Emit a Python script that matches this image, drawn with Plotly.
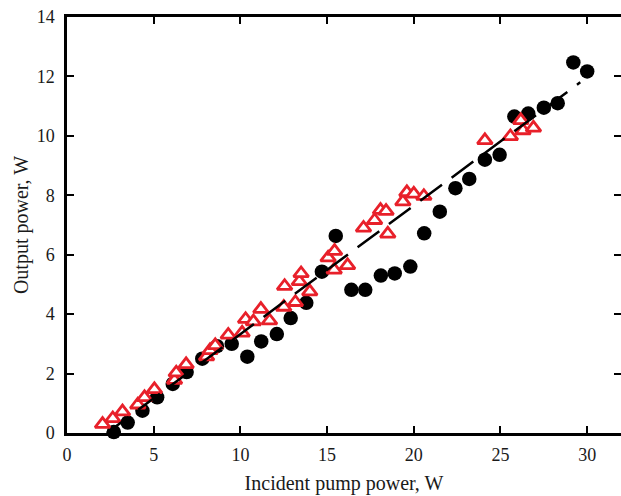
import plotly.graph_objects as go

# Black circles
circ_x = [2.7, 3.5, 4.35, 5.2, 6.1, 6.9, 7.8, 8.65, 9.5, 10.4, 11.2, 12.1, 12.9, 13.8, 14.7, 15.5,
          16.4, 17.2, 18.1, 18.9, 19.8, 20.6, 21.5, 22.4, 23.2, 24.1, 24.95, 25.8, 26.6, 27.5, 28.3,
          29.2, 30.0]
circ_y = [0.03, 0.35, 0.75, 1.2, 1.65, 2.05, 2.5, 2.92, 3.0, 2.57, 3.08, 3.33, 3.87, 4.38, 5.43, 6.63,
          4.82, 4.82, 5.3, 5.37, 5.6, 6.72, 7.45, 8.24, 8.55, 9.2, 9.36, 10.65, 10.75, 10.95, 11.1,
          12.47, 12.17]

# Red open triangles
tri_x = [2.05, 2.64, 3.2, 4.08, 4.47, 5.04, 6.2, 6.3, 6.87, 8.05, 8.25, 8.55, 9.3, 10.1, 10.3, 10.75,
         11.18, 11.68, 12.5, 12.55, 13.17, 13.4, 13.5, 14.0, 15.06, 15.43, 15.41, 16.18, 17.1, 17.74,
         18.08, 18.4, 18.5, 19.37, 19.6, 20.0, 20.58, 24.1, 25.57, 26.17, 26.3, 26.9]
tri_y = [0.3, 0.49, 0.72, 0.95, 1.2, 1.47, 1.78, 2.03, 2.31, 2.57, 2.78, 2.95, 3.3, 3.37, 3.83, 3.75,
         4.17, 3.78, 4.24, 4.94, 4.4, 5.1, 5.37, 4.76, 5.9, 6.12, 5.49, 5.64, 6.9, 7.16,
         7.5, 7.47, 6.7, 7.79, 8.1, 8.05, 7.97, 9.85, 9.98, 10.52, 10.18, 10.27]

# Dashed fit line
fit_x = [2.3, 29.6]
fit_y = [0.0, 11.8]

x_ticks = [0, 5, 10, 15, 20, 25, 30]
y_ticks = [0, 2, 4, 6, 8, 10, 12, 14]

fig = go.Figure()
fig.add_trace(go.Scatter(x=circ_x, y=circ_y, mode="markers", cliponaxis=False,
                         marker=dict(symbol="circle", size=14.5, color="black"), showlegend=False))
fig.add_trace(go.Scatter(x=tri_x, y=tri_y, mode="markers", cliponaxis=False,
                         marker=dict(symbol="triangle-up", size=13, color="white",
                                     line=dict(color="#e8202a", width=2.8)), showlegend=False))
fig.add_trace(go.Scatter(x=fit_x, y=fit_y, mode="lines",
                         line=dict(color="black", width=2.5, dash="27px,12px"), showlegend=False))

font_family = "Liberation Serif"
fig.update_layout(
    width=621, height=496,
    margin=dict(l=67, r=0, t=17, b=63, autoexpand=False),
    paper_bgcolor="white", plot_bgcolor="white",
    font=dict(family=font_family, size=18, color="#1a1a1a"),
    xaxis=dict(range=[0, 31.95], tickvals=x_ticks, ticks="inside", ticklen=7, tickwidth=2,
               tickcolor="black", showline=True, linecolor="black", linewidth=2.5, mirror="ticks",
               showgrid=False, zeroline=False, ticklabelstandoff=4, ticklabeloverflow="allow",
               title=dict(text="Incident pump power, W", font=dict(size=20), standoff=12)),
    yaxis=dict(range=[0, 14], tickvals=y_ticks, ticks="inside", ticklen=7, tickwidth=2,
               tickcolor="black", showline=True, linecolor="black", linewidth=2.5, mirror="ticks",
               showgrid=False, zeroline=False, ticklabelstandoff=6, ticklabeloverflow="allow",
               title=dict(text="Output power, W", font=dict(size=20), standoff=3)),
)

fig.write_html("out.html", config={"displayModeBar": False},
               post_script="document.body.style.margin='0';")
